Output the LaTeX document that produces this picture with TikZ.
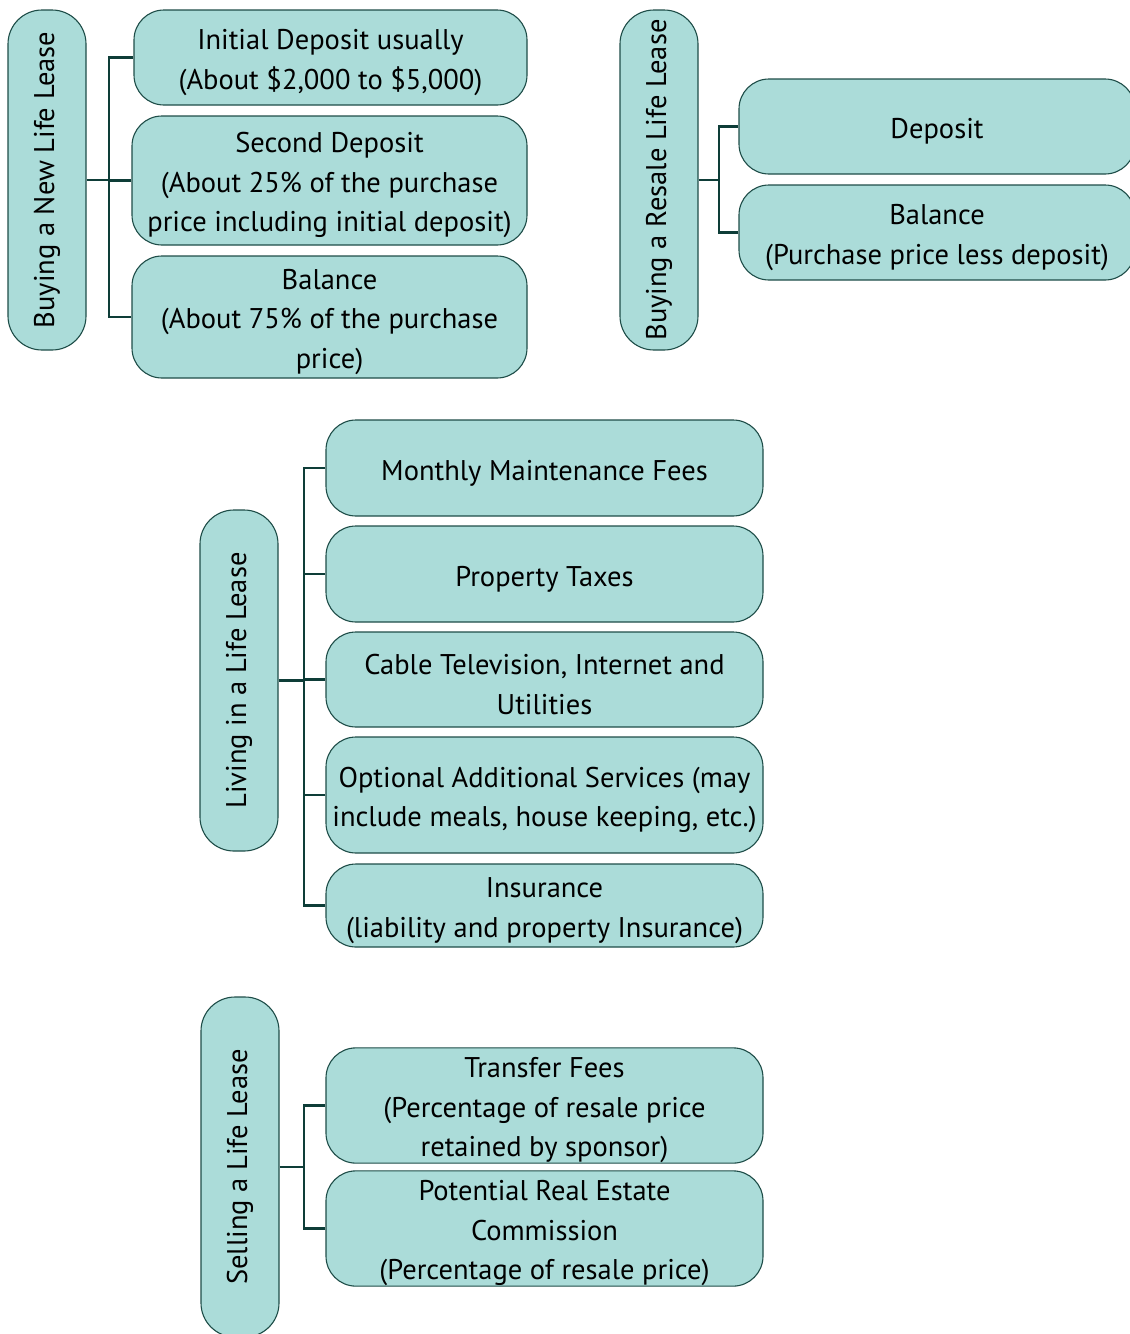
\documentclass[tikz,border=0pt]{standalone}
\usepackage{fontspec}
\setmainfont{PT Sans}
\definecolor{boxfill}{HTML}{ABDCD9}
\definecolor{boxline}{HTML}{1E4D48}
\definecolor{linkc}{HTML}{0E3D38}
\newcommand\lowr{\rule{0pt}{30pt}}
\begin{document}
\begin{tikzpicture}[x=1pt, y=-1pt,
    item/.style = {draw=boxline, fill=boxfill, line width=1.1pt, rounded corners=30pt, align=center, inner sep=0pt, font=\fontsize{28.5}{39.5}\selectfont},
    head/.style = {draw=boxline, fill=boxfill, line width=1.1pt, rounded corners=34pt, minimum width=78pt, minimum height=340pt, inner sep=0pt, font=\fontsize{28.5}{39.5}\selectfont},
    link/.style = {draw=linkc, line width=2.7pt}]
    \useasboundingbox (0,0) rectangle (1130,1334);

    % buying new
    \node[head] (new) at (47,180) {\rotatebox{90}{Buying a New Life Lease}};
    \node[item, minimum width=393, minimum height=95] (new1) at (330.5,57.5) {\lowr Initial Deposit usually\\(About \$2,000 to \$5,000)};
    \node[item, minimum width=395, minimum height=129] (new2) at (329.5,180.5) {\lowr Second Deposit\\(About 25\% of the purchase\\price including initial deposit)};
    \node[item, minimum width=395, minimum height=122] (new3) at (329.5,317) {\lowr Balance\\(About 75\% of the purchase\\price)};
    \coordinate (newj) at (109,180);
    \draw[link] (new) -- (newj);
    \foreach \n in {new1,new2,new3}
        \draw[link] (\n.west) -| (newj);

    % buying resale
    \node[head] (resale) at (659,180) {\rotatebox{90}{Buying a Resale Life Lease}};
    \node[item, minimum width=396, minimum height=95] (res1) at (937,126.5) {\lowr Deposit};
    \node[item, minimum width=396, minimum height=95] (res2) at (937,232.5) {\lowr Balance\\(Purchase price less deposit)};
    \coordinate (resj) at (719,180);
    \draw[link] (resale) -- (resj);
    \foreach \n in {res1,res2}
        \draw[link] (\n.west) -| (resj);

    % living
    \node[head, minimum height=341] (live) at (239,680.5) {\rotatebox{90}{Living in a Life Lease}};
    \node[item, minimum width=437, minimum height=96] (liv1) at (544.5,468) {\lowr Monthly Maintenance Fees};
    \node[item, minimum width=437, minimum height=96] (liv2) at (544.5,574) {\lowr Property Taxes};
    \node[item, minimum width=437, minimum height=95] (liv3) at (544.5,679.5) {\lowr Cable Television, Internet and\\Utilities};
    \node[item, minimum width=437, minimum height=116] (liv4) at (544.5,795) {\lowr Optional Additional Services (may\\include meals, house keeping, etc.)};
    \node[item, minimum width=437, minimum height=83] (liv5) at (544.5,905.5) {\lowr Insurance\\(liability and property Insurance)};
    \coordinate (livj) at (304,680.5);
    \draw[link] (live) -- (livj);
    \foreach \n in {liv1,liv2,liv3,liv4,liv5}
        \draw[link] (\n.west) -| (livj);

    % selling
    \node[head] (sell) at (240,1167) {\rotatebox{90}{Selling a Life Lease}};
    \node[item, minimum width=437, minimum height=111] (sel1) at (544.5,1105.5) {\lowr Transfer Fees\\(Percentage of resale price\\retained by sponsor)};
    \node[item, minimum width=437, minimum height=111] (sel2) at (544.5,1228.5) {\lowr Potential Real Estate\\Commission\\(Percentage of resale price)};
    \coordinate (selj) at (304,1167);
    \draw[link] (sell) -- (selj);
    \foreach \n in {sel1,sel2}
        \draw[link] (\n.west) -| (selj);
\end{tikzpicture}
\end{document}
